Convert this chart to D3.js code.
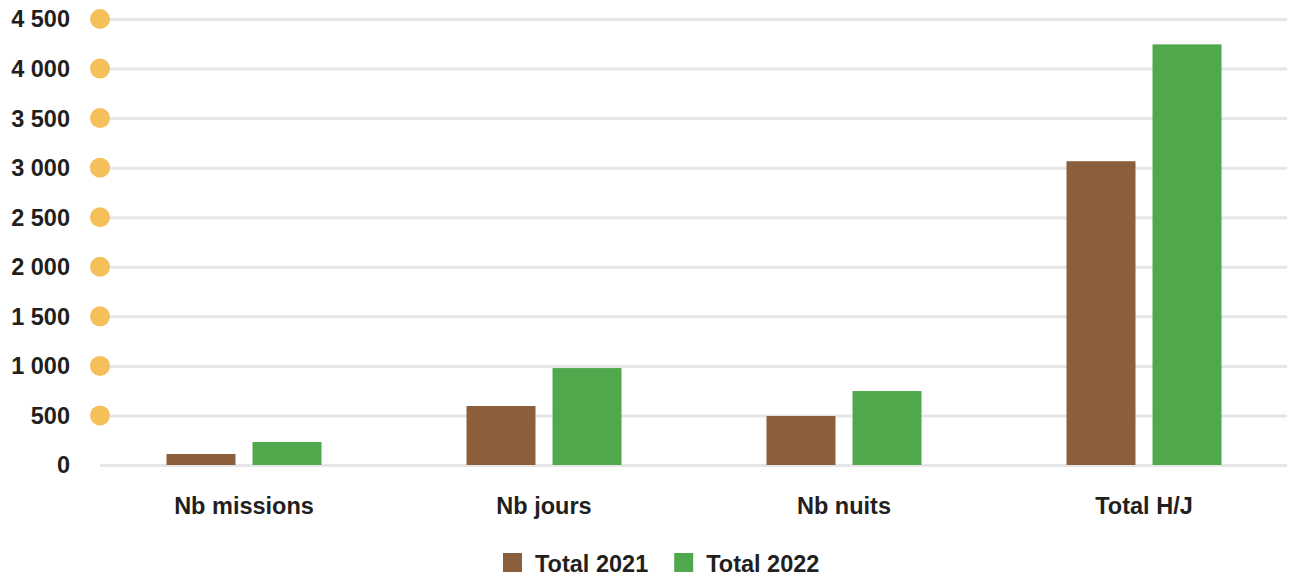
<!DOCTYPE html>
<html>
<head>
<meta charset="utf-8">
<script src="https://cdn.jsdelivr.net/npm/d3@7"></script>
<style>
  body { margin: 0; background: #fff; }
  svg text { font-family: "Liberation Sans", Arial, Helvetica, sans-serif; font-weight: bold; fill: #231f20; }
  .grid line { stroke: #e6e6e6; stroke-width: 3; }
  .grid path { display: none; }
</style>
</head>
<body>
<svg id="chart" width="1296" height="577"></svg>
<script>
var categories = ["Nb missions", "Nb jours", "Nb nuits", "Total H/J"];
var seriesNames = ["Total 2021", "Total 2022"];
var values2021 = [111, 595, 494, 3065];
var values2022 = [232, 978, 746, 4244];
var yTicks = [0, 500, 1000, 1500, 2000, 2500, 3000, 3500, 4000, 4500];
var colors = ["#8b5e3c", "#4fa84c"];

var svg = d3.select("#chart");
var plotLeft = 100, plotRight = 1287;

var x0 = d3.scaleBand().domain(categories).range([94, 1294]).padding(0);
var x1 = d3.scaleBand().domain(seriesNames).range([0, x0.bandwidth()])
    .paddingInner(0.198).paddingOuter(0.843);
var y = d3.scaleLinear().domain([0, 4500]).range([465, 19]);

// gridlines
svg.append("g")
    .attr("class", "grid")
    .attr("transform", "translate(" + plotRight + ",0)")
    .call(d3.axisLeft(y).tickValues(yTicks).tickSize(plotRight - plotLeft).tickFormat(""));

// y labels
var fmt = function (d) { return d3.format(",")(d).replace(/,/g, " "); };
svg.append("g").selectAll("text")
    .data(yTicks)
    .join("text")
    .attr("x", 70)
    .attr("y", function (d) { return y(d); })
    .attr("dy", "0.36em")
    .attr("text-anchor", "end")
    .style("font-size", "23.5px")
    .text(fmt);

// decorative dots on the axis
svg.append("g").selectAll("circle")
    .data(yTicks.filter(function (d) { return d > 0; }))
    .join("circle")
    .attr("cx", plotLeft)
    .attr("cy", function (d) { return y(d); })
    .attr("r", 10)
    .attr("fill", "#f5bf59");

// bars
var rows = categories.map(function (c, i) {
    return { cat: c, vals: [values2021[i], values2022[i]] };
});
var groups = svg.append("g").selectAll("g")
    .data(rows)
    .join("g")
    .attr("transform", function (d) { return "translate(" + x0(d.cat) + ",0)"; });

groups.selectAll("rect")
    .data(function (d) { return d.vals.map(function (v, i) { return { key: seriesNames[i], v: v, i: i }; }); })
    .join("rect")
    .attr("x", function (d) { return x1(d.key); })
    .attr("width", x1.bandwidth())
    .attr("y", function (d) { return y(d.v); })
    .attr("height", function (d) { return y(0) - y(d.v); })
    .attr("fill", function (d) { return colors[d.i]; });

// category labels
svg.append("g").selectAll("text")
    .data(categories)
    .join("text")
    .attr("x", function (d) { return x0(d) + x0.bandwidth() / 2; })
    .attr("y", 514)
    .attr("text-anchor", "middle")
    .style("font-size", "23.5px")
    .text(function (d) { return d; });

// legend
var legend = svg.append("g");
var lx = 503;
seriesNames.forEach(function (name, i) {
    var g = legend.append("g").attr("transform", "translate(" + lx + ",553)");
    g.append("rect").attr("width", 19).attr("height", 19).attr("fill", colors[i]);
    var t = g.append("text").attr("x", 32).attr("y", 19)
        .style("font-size", "23.5px").text(name);
    lx += 32 + t.node().getComputedTextLength() + 26;
});
</script>
</body>
</html>
